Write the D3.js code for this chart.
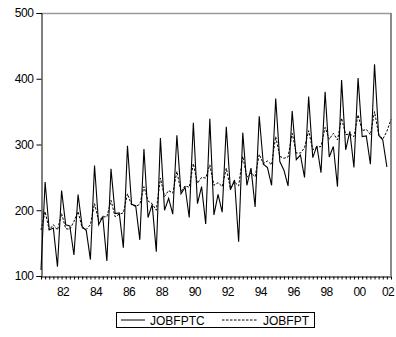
<!DOCTYPE html>
<html>
<head>
<meta charset="utf-8">
<script src="https://cdn.jsdelivr.net/npm/d3@7"></script>
<style>
  html, body { margin: 0; padding: 0; background: #fff; }
  svg { display: block; font-family: "Liberation Sans", Arial, sans-serif; }
</style>
</head>
<body>
<div class="chart"></div>
<script>
const width = 396;
const height = 337;

// quarterly data, first observation 1980Q4
const startYear = 1980.75;

const jobfptc = [
  109,
  243, 170, 173, 114,
  230, 178, 176, 132,
  224, 175, 169, 125,
  268, 178, 190, 123,
  263, 195, 196, 143,
  298, 209, 207, 155,
  293, 189, 209, 137,
  310, 200, 218, 194,
  314, 225, 235, 189,
  333, 210, 236, 179,
  339, 193, 224, 197,
  327, 231, 246, 152,
  318, 238, 264, 205,
  343, 270, 265, 238,
  370, 274, 261, 237,
  351, 277, 284, 250,
  373, 280, 298, 257,
  380, 281, 297, 236,
  398, 292, 320, 265,
  401, 312, 313, 270,
  422, 314, 307, 266,
  null
];

const jobfpt = [
  170,
  198, 170, 178, 170,
  195, 172, 171, 183,
  198, 173, 171, 178,
  210, 184, 190, 190,
  215, 190, 194, 196,
  225, 208, 206, 209,
  236, 214, 210, 200,
  249, 221, 230, 226,
  259, 228, 237, 235,
  271, 241, 250, 249,
  269, 238, 242, 236,
  264, 233, 243, 237,
  282, 250, 257, 251,
  285, 271, 275, 269,
  312, 282, 279, 281,
  317, 287, 287, 295,
  321, 292, 296, 297,
  326, 308, 317, 307,
  340, 315, 316, 312,
  345, 321, 323, 315,
  350, 316, 308, 320,
  338
];

const yTicks = [100, 200, 300, 400, 500];
const xLabelYears = d3.range(1982, 2003, 2);
const seriesNames = ["JOBFPTC", "JOBFPT"];

const margin = { left: 41, right: 5, top: 13, bottom: 61 };

const svg = d3.select(".chart").append("svg")
  .attr("width", width)
  .attr("height", height);

const x = d3.scaleLinear()
  .domain([startYear, startYear + (jobfptc.length - 1) * 0.25])
  .range([margin.left, width - margin.right]);

const y = d3.scaleLinear()
  .domain([100, 500])
  .range([height - margin.bottom, margin.top]);

const t = i => startYear + i * 0.25;

// frame: top and right in grey
svg.append("line")
  .attr("x1", x.range()[0]).attr("x2", x.range()[1])
  .attr("y1", y(500) + 0.5).attr("y2", y(500) + 0.5)
  .attr("stroke", "#9a9a9a").attr("stroke-width", 1.5);
svg.append("line")
  .attr("x1", x.range()[1]).attr("x2", x.range()[1])
  .attr("y1", y(500)).attr("y2", y(100))
  .attr("stroke", "#8a8a8a").attr("stroke-width", 2);

// y axis
const yAxis = d3.axisLeft(y)
  .tickValues(yTicks)
  .tickSize(5)
  .tickPadding(3)
  .tickFormat(d3.format("d"));
const gy = svg.append("g")
  .attr("transform", `translate(${margin.left + 0.5},0)`)
  .call(yAxis);
gy.select(".domain").attr("stroke", "#000");
gy.selectAll("text").attr("font-size", 12).attr("fill", "#000")
  .attr("font-family", "'Liberation Sans', Arial, sans-serif")
  .attr("letter-spacing", "-0.4");

// x axis with quarterly ticks
const quarterTicks = d3.range(jobfptc.length).map(t);
const xAxis = d3.axisBottom(x)
  .tickValues(quarterTicks)
  .tickSize(3)
  .tickSizeOuter(0)
  .tickFormat("");
const gx = svg.append("g")
  .attr("transform", `translate(0,${y(100) + 0.5})`)
  .call(xAxis);
gx.select(".domain").attr("stroke", "#000");

svg.append("g")
  .selectAll("text")
  .data(xLabelYears)
  .enter().append("text")
  .attr("x", d => Math.min(x(d) + 1.5, width - 8))
  .attr("y", y(100) + 20)
  .attr("text-anchor", "middle")
  .attr("font-size", 12)
  .attr("letter-spacing", "-0.6")
  .attr("fill", "#000")
  .text(d => String(d % 100).padStart(2, "0"));

// series
const line = d3.line()
  .defined(d => d != null)
  .x((d, i) => x(t(i)))
  .y(d => y(d));

svg.append("path")
  .datum(jobfpt)
  .attr("fill", "none")
  .attr("stroke", "#000")
  .attr("stroke-width", 1)
  .attr("stroke-dasharray", "2.5,1.5")
  .attr("d", line);

svg.append("path")
  .datum(jobfptc)
  .attr("fill", "none")
  .attr("stroke", "#000")
  .attr("stroke-width", 1.1)
  .attr("d", line);

// legend
const lg = svg.append("g");
lg.append("rect")
  .attr("x", 116.5).attr("y", 312.5)
  .attr("width", 198).attr("height", 15)
  .attr("fill", "#fff").attr("stroke", "#000");

const items = [
  { name: seriesNames[0], x0: 121, len: 24, dash: null },
  { name: seriesNames[1], x0: 222, len: 36, dash: "2.5,1.5" }
];
items.forEach(it => {
  lg.append("line")
    .attr("x1", it.x0).attr("x2", it.x0 + it.len)
    .attr("y1", 320).attr("y2", 320)
    .attr("stroke", "#000")
    .attr("stroke-dasharray", it.dash);
  lg.append("text")
    .attr("x", it.x0 + it.len + 5)
    .attr("y", 324.5)
    .attr("font-size", 12)
    .attr("fill", "#000")
    .text(it.name);
});
</script>
</body>
</html>
